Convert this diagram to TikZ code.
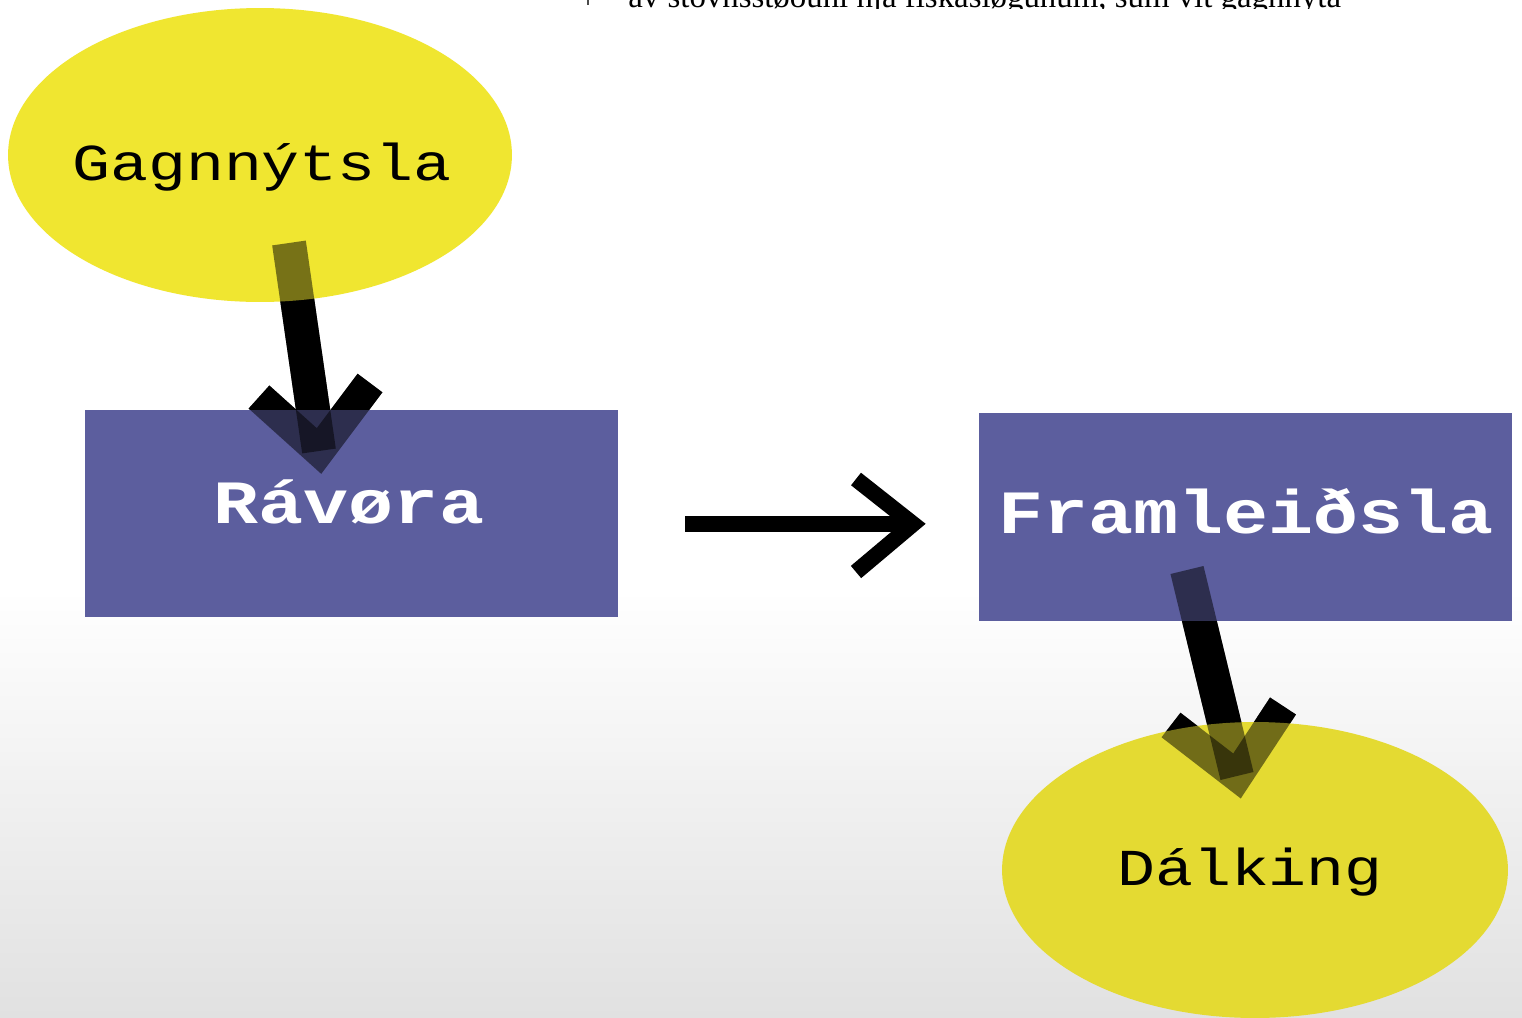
\documentclass[tikz,border=0pt]{standalone}
\usepackage{fontspec}
\setmainfont{Liberation Serif}
\newfontfamily\monof[FakeStretch=1.22]{Liberation Mono}
\usetikzlibrary{shapes.geometric}
\definecolor{ylw}{RGB}{240,230,48}
\definecolor{ylwb}{RGB}{228,218,50}
\definecolor{blu}{RGB}{92,94,158}
\definecolor{bga}{RGB}{240,240,240}
\definecolor{bgb}{RGB}{225,225,225}
\tikzset{
  yellipse/.style={ellipse, draw=none, inner sep=0pt},
  bluebox/.style={rectangle, draw=none, fill=blu, inner sep=0pt},
  shaftline/.style={line width=0.68cm, line cap=butt, black},
  barbline/.style={line width=0.62cm, line cap=butt, line join=miter, black},
  thinshaft/.style={line width=0.32cm, line cap=butt, black},
  thinbarb/.style={line width=0.32cm, line cap=butt, line join=miter, black},
  veil/.style={opacity=0.5},
  darklabel/.style={inner sep=0pt, anchor=base, text=black, font=\monof\fontsize{29.5}{32}\selectfont},
  whitelabel/.style={inner sep=0pt, anchor=base, text=white, font=\monof\bfseries\fontsize{35}{38}\selectfont}
}
\begin{document}
\begin{tikzpicture}[x=0.02cm, y=-0.02cm]
\useasboundingbox (0,0) rectangle (1522,1018);
\fill[white] (0,0) rectangle (1522,1018);
% background fading to a light grey texture
\shade[top color=white, bottom color=bga] (0,590) rectangle (1522,800);
\shade[top color=bga, bottom color=bgb] (0,800) rectangle (1522,1018);

% clipped line of text at the very top
\begin{scope}
  \clip (560,-2) rectangle (1420,8);
  \node[inner sep=0pt, anchor=base west, font=\fontsize{18.7}{21}\selectfont] (toptext) at (628,7) {av stovnsstøðuni hjá fiskasløgunum, sum vit gagnnýta};
  \coordinate (tickA) at (588,0);
  \coordinate (tickB) at (588,5);
  \draw[line width=0.03cm, black!70] (tickA) -- (tickB);
\end{scope}

% connector coordinates
\coordinate (a1s) at (289,243);
\coordinate (a1t) at (319,451);
\coordinate (a1l) at (259,397);
\coordinate (a1r) at (370,383);
\coordinate (a2s) at (685,524);
\coordinate (a2t) at (913,524);
\coordinate (a2u) at (856,479);
\coordinate (a2d) at (856,572);
\coordinate (a3s) at (1187,570);
\coordinate (a3t) at (1237,776);
\coordinate (a3l) at (1171,725);
\coordinate (a3r) at (1283,706);

% opaque arrows underneath
\draw[shaftline] (a1s) -- (a1t);
\draw[barbline] (a1l) -- (a1t) -- (a1r);
\draw[shaftline] (a3s) -- (a3t);
\draw[barbline] (a3l) -- (a3t) -- (a3r);

% shapes
\node[yellipse, fill=ylw, minimum width=10.08cm, minimum height=5.88cm] (g) at (260,155) {};
\node[bluebox, minimum width=10.66cm, minimum height=4.14cm] (r) at (351.5,513.5) {};
\node[bluebox, minimum width=10.66cm, minimum height=4.16cm] (f) at (1245.5,517) {};
\node[yellipse, fill=ylwb, minimum width=10.12cm, minimum height=5.92cm] (d) at (1255,870) {};

% labels
\node[darklabel] (gt) at (262,180) {Gagnnýtsla};
\node[whitelabel] (rt) at (349,523) {Rávøra};
\node[whitelabel] (ft) at (1246,533) {Framleiðsla};
\node[darklabel] (dt) at (1250,885) {Dálking};

% translucent arrows over the shapes
\draw[shaftline, veil] (a1s) -- (a1t);
\draw[barbline, veil] (a1l) -- (a1t) -- (a1r);
\draw[shaftline, veil] (a3s) -- (a3t);
\draw[barbline, veil] (a3l) -- (a3t) -- (a3r);

% horizontal arrow
\draw[thinshaft] (a2s) -- (a2t);
\draw[thinbarb] (a2u) -- (a2t) -- (a2d);
\end{tikzpicture}
\end{document}
